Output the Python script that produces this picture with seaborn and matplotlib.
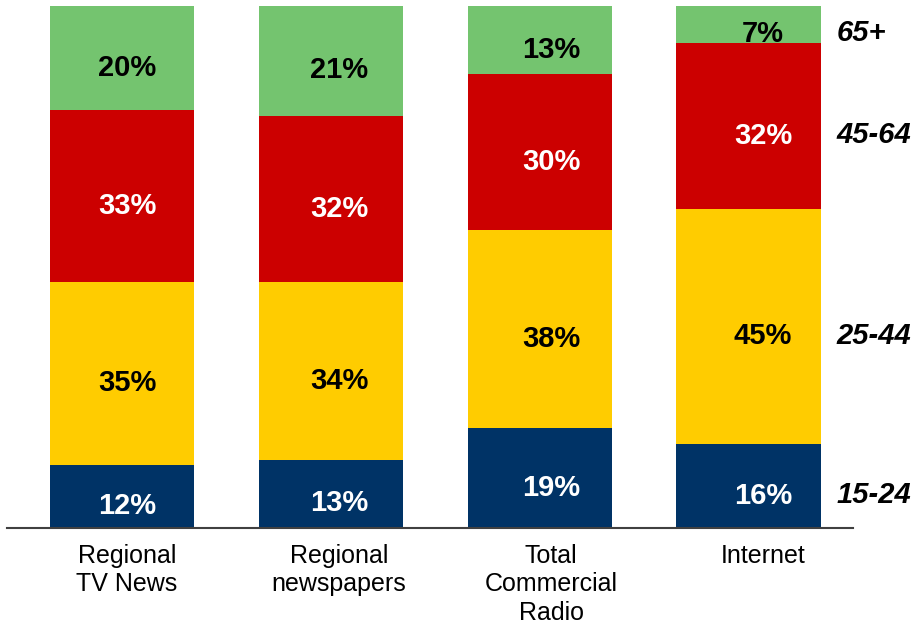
import matplotlib
matplotlib.use("Agg")
import matplotlib.pyplot as plt
import seaborn as sns
import pandas as pd
import numpy as np

categories = ["Regional\nTV News", "Regional\nnewspapers", "Total\nCommercial\nRadio", "Internet"]
age_groups = ["15-24", "25-44", "45-64", "65+"]
v_15_24 = [12, 13, 19, 16]
v_25_44 = [35, 34, 38, 45]
v_45_64 = [33, 32, 30, 32]
v_65p = [20, 21, 13, 7]

colors = ["#003366", "#FFCC00", "#CC0000", "#74C46F"]
text_colors = ["white", "black", "white", "black"]

sns.set_theme(style="white")
plt.rcParams["font.family"] = ["Liberation Sans", "DejaVu Sans"]

series = [v_15_24, v_25_44, v_45_64, v_65p]
df = pd.DataFrame({"category": categories})
cum = np.zeros(len(categories))
bottoms = []
for name, vals in zip(age_groups, series):
    bottoms.append(cum.copy())
    cum = cum + np.array(vals, dtype=float)
    df[name] = cum.copy()

fig = plt.figure(figsize=(9.16, 6.25), dpi=100)
ax = fig.add_axes([7 / 916, 97.5 / 625, 846 / 916, 521.5 / 625])

# draw from top layer down so lower layers overlay
for name, col in reversed(list(zip(age_groups, colors))):
    sns.barplot(data=df, x="category", y=name, color=col, width=0.69,
                saturation=1, ax=ax, edgecolor="none", linewidth=0)

ax.set_xlim(-0.55, 3.5)
ax.set_ylim(0, 100)

offsets = [0.025 + 0.015 * i for i in range(len(categories))]

for s, (vals, tc) in enumerate(zip(series, text_colors)):
    for i, v in enumerate(vals):
        yc = bottoms[s][i] + v / 2
        ax.text(i + offsets[i], yc - 3.4, f"{v}%", ha="center", va="baseline",
                color=tc, fontsize=21, fontweight="bold")

# right-side age labels aligned to last bar segments
last = len(categories) - 1
for s, name in enumerate(age_groups):
    yc = bottoms[s][last] + series[s][last] / 2
    ax.text(3.42, yc - 3.3, name, ha="left", va="baseline", fontsize=21,
            fontweight="bold", fontstyle="italic", color="black", clip_on=False)

ax.set_xticks([i + offsets[i] for i in range(len(categories))])
ax.set_xticklabels(categories, fontsize=18, color="black", linespacing=1.22)
ax.tick_params(axis="x", length=0, pad=12)
ax.set_xlabel("")
ax.set_ylabel("")
ax.set_yticks([])
for sp in ["top", "left", "right"]:
    ax.spines[sp].set_visible(False)
ax.spines["bottom"].set_color("#404040")
ax.spines["bottom"].set_linewidth(1.5)
ax.set_facecolor("white")
fig.patch.set_facecolor("white")

fig.savefig("out.png", dpi=100, facecolor="white")
